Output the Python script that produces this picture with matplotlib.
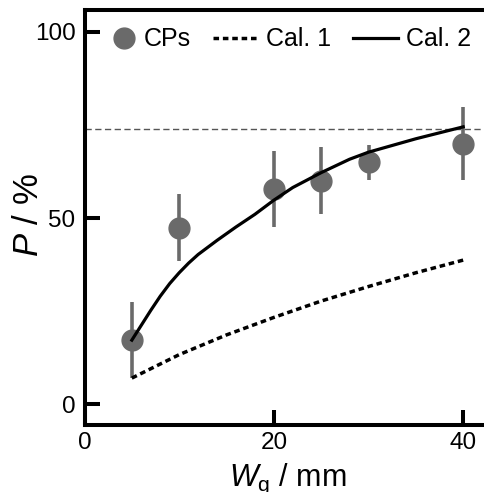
import matplotlib
matplotlib.use('Agg')
import matplotlib.pyplot as plt
from matplotlib.lines import Line2D
from matplotlib.legend_handler import HandlerLine2D

plt.rcParams['font.family'] = ['Liberation Sans', 'DejaVu Sans']
plt.rcParams['mathtext.fontset'] = 'custom'
plt.rcParams['mathtext.rm'] = 'Liberation Sans'
plt.rcParams['mathtext.it'] = 'Liberation Sans:italic'

# measured points (CPs) with error bars
cpX   = [5, 10, 20, 25, 30, 40]
cpY   = [17.2, 47.4, 57.7, 60.0, 65.0, 70.0]
cpErr = [10.2, 9.0, 10.2, 9.0, 4.7, 9.9]

# calculation 1 (dotted)
cal1X = [5, 10, 15, 20, 25, 30, 35, 40]
cal1Y = [7.0, 13.3, 18.6, 23.3, 27.7, 31.6, 35.3, 38.7]

# calculation 2 (solid)
cal2X = [5, 6, 7, 8, 9, 10, 11, 12, 14, 16, 18, 20, 22, 25, 28, 30, 35, 40]
cal2Y = [17.2, 21.2, 25.2, 29.0, 32.4, 35.3, 37.9, 40.2, 44.0, 47.6, 51.0, 54.8, 58.2,
         62.2, 65.8, 67.7, 71.3, 74.5]

REF_LEVEL = 73.8

POINT_COLOR = '#6a6a6a'
FONT_TICK   = 17.5
FONT_XLABEL = 22
FONT_YLABEL = 25
FONT_LEGEND = 18


#
# Legend handler that puts the single marker near the right end of the handle box
#
class MarkerRightHandler(HandlerLine2D):
    def get_xdata(self, legend, xdescent, ydescent, width, height, fontsize):
        center = width - xdescent - 8.4
        return [center - 1, center + 1], [center]


figure = plt.figure(figsize=(4.84, 4.92), dpi=100)
ax = figure.add_axes([0.1746, 0.1362, 0.8254, 0.8435])

ax.axhline(REF_LEVEL, color='#555555', lw=1.0, linestyle=(0, (4.5, 2.5)), zorder=1)

ax.errorbar(cpX, cpY, yerr=cpErr, fmt='o', color=POINT_COLOR, ecolor=POINT_COLOR,
            markersize=15, elinewidth=2.6, capsize=0, zorder=2)
ax.plot(cal1X, cal1Y, color='black', lw=2.5, linestyle=(0, (1.6, 1.1)), zorder=3)
ax.plot(cal2X, cal2Y, color='black', lw=2.3, zorder=3)

ax.set_xlim(0, 42.2)
ax.set_ylim(-5.6, 105.9)
ax.set_xticks([0, 20, 40])
ax.set_yticks([0, 50, 100])

for side in ['left', 'bottom', 'top']:
    ax.spines[side].set_linewidth(2.9)
ax.spines['right'].set_visible(False)

ax.tick_params(direction='in', length=10.5, width=2.9, labelsize=FONT_TICK)
ax.tick_params(axis='y', pad=6.4)
ax.tick_params(axis='x', pad=5)

ax.set_xlabel('$\\mathit{W}_\\mathrm{g}$ / mm', fontsize=FONT_XLABEL)
ax.set_ylabel('$\\mathit{P}$ / %', fontsize=FONT_YLABEL)
ax.xaxis.set_label_coords(0.51, -0.0896)
ax.yaxis.set_label_coords(-0.100, 0.506)

cpHandle = Line2D([], [], marker='o', linestyle='none', color=POINT_COLOR, markersize=15)
handles  = [cpHandle,
            Line2D([], [], color='black', lw=2.5, linestyle=(0, (1.6, 1.1))),
            Line2D([], [], color='black', lw=2.3)]
labels   = ['CPs', 'Cal. 1', 'Cal. 2']
legend = ax.legend(handles, labels, ncol=3, loc='upper left', bbox_to_anchor=(0.016, 0.958),
                   frameon=False, fontsize=FONT_LEGEND, handlelength=1.8, handletextpad=0.3,
                   columnspacing=0.9, borderaxespad=0, borderpad=0,
                   handler_map={cpHandle: MarkerRightHandler(numpoints=1)})

figure.savefig('out.png', dpi=100)
plt.close(figure)
